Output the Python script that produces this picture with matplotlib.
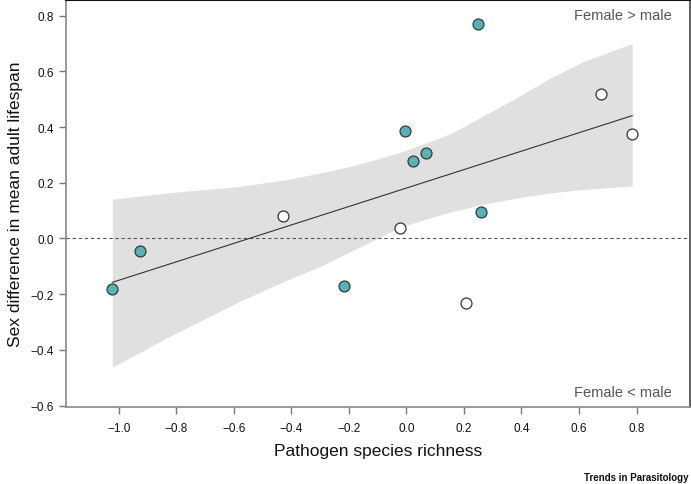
import matplotlib
matplotlib.use("Agg")
import matplotlib.pyplot as plt
import numpy as np

plt.rcParams['font.family'] = ['Liberation Sans', 'DejaVu Sans']

# Data
teal_x = [-1.023, -0.925, -0.216, -0.006, 0.022, 0.067, 0.248, 0.259]
teal_y = [-0.181, -0.045, -0.172, 0.385, 0.278, 0.306, 0.771, 0.095]
white_x = [-0.428, -0.024, 0.206, 0.675, 0.785]
white_y = [0.081, 0.036, -0.231, 0.517, 0.374]

# fitted line (intercept, slope) and its x range
fit_intercept = 0.181
fit_slope = 0.331
fit_x = [-1.023, 0.785]

# confidence band readings
band_x = [-1.023, -0.817, -0.585, -0.423, -0.295, -0.19, -0.023, 0.069, 0.151,
          0.267, 0.383, 0.499, 0.615, 0.785]
band_hi = [0.141, 0.165, 0.186, 0.210, 0.236, 0.260, 0.308, 0.343, 0.375,
           0.440, 0.505, 0.575, 0.635, 0.700]
band_lo = [-0.462, -0.348, -0.228, -0.153, -0.098, -0.045, 0.040, 0.070, 0.094,
           0.123, 0.145, 0.163, 0.176, 0.188]

xticks = [-1.0, -0.8, -0.6, -0.4, -0.2, 0.0, 0.2, 0.4, 0.6, 0.8]
yticks = [-0.6, -0.4, -0.2, 0.0, 0.2, 0.4, 0.6, 0.8]

fig = plt.figure(figsize=(6.91, 4.85), dpi=100)
ax = fig.add_axes([66/691, 1-408/485, (690-66)/691, 407/485])

ax.fill_between(band_x, band_lo, band_hi, color='#e0e0e0', lw=0, zorder=1)
ax.axhline(0, color='#555555', lw=0.8, ls=(0, (3, 2.5)), zorder=2)
fx = np.array(fit_x)
ax.plot(fx, fit_intercept + fit_slope*fx, color='#333333', lw=0.8, zorder=3)
ax.scatter(teal_x, teal_y, s=62, facecolor='#5fb0b4', edgecolor='#27403f', lw=0.9, zorder=4)
ax.scatter(white_x, white_y, s=62, facecolor='white', edgecolor='#333333', lw=0.9, zorder=4)

ax.set_xlim(-1.184, 0.986)
ax.set_ylim(-0.605, 0.856)
ax.set_xticks(xticks)
ax.set_yticks(yticks)
ax.set_xticklabels([f"{v:.1f}".replace('-', '\u2212') for v in xticks])
ax.set_yticklabels([f"{v:.1f}".replace('-', '\u2212') for v in yticks])
ax.tick_params(axis='both', length=5, width=1, color='#777777', labelsize=8.5, labelcolor='#111111')
ax.tick_params(axis='x', pad=6)
ax.tick_params(axis='y', pad=4)

for side in ['left', 'bottom']:
    ax.spines[side].set_color('#888888')
    ax.spines[side].set_linewidth(1.2)
ax.spines['top'].set_color('#111111')
ax.spines['top'].set_linewidth(1.5)
ax.spines['right'].set_color('#444444')
ax.spines['right'].set_linewidth(1.2)

ax.set_xlabel('Pathogen species richness', fontsize=12.5, color='#111111', labelpad=6)
ax.set_ylabel('Sex difference in mean adult lifespan', fontsize=12.5, color='#111111', labelpad=5)

ax.text(0.971, 0.962, 'Female > male', transform=ax.transAxes, ha='right', va='center',
        fontsize=10.5, color='#555555')
ax.text(0.971, 0.037, 'Female < male', transform=ax.transAxes, ha='right', va='center',
        fontsize=10.5, color='#555555')

fig.text(688/691, 1-478/485, 'Trends in Parasitology', ha='right', va='center',
         fontsize=7, fontweight='bold', color='#111111')

fig.savefig('out.png', dpi=100)
